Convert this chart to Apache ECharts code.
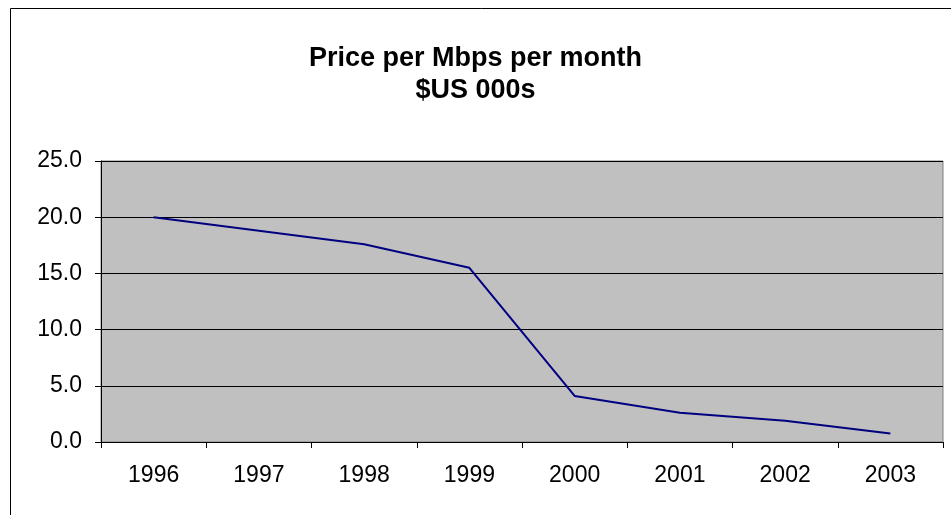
<!DOCTYPE html>
<html>
<head>
<meta charset="utf-8">
<script src="https://cdn.jsdelivr.net/npm/echarts@6/dist/echarts.min.js"></script>
<style>
	html, body { margin: 0; padding: 0; background: #fff; }
	#chart { width: 951px; height: 515px; }
</style>
</head>
<body>
<div id="chart"></div>
<script>
var years = ['1996', '1997', '1998', '1999', '2000', '2001', '2002', '2003'];
var prices = [20.0, 18.8, 17.6, 15.5, 4.1, 2.6, 1.9, 0.75];
var yTicks = [0, 5, 10, 15, 20, 25];

var chart = echarts.init(document.getElementById('chart'));

var option = {
	animation: false,
	textStyle: { fontFamily: 'Liberation Sans, Arial, sans-serif' },
	title: {
		text: 'Price per Mbps per month\n$US 000s',
		left: 'center',
		top: 38,
		textStyle: {
			fontSize: 27,
			fontWeight: 'bold',
			color: '#000',
			lineHeight: 32,
			fontFamily: 'Liberation Sans, Arial, sans-serif'
		}
	},
	graphic: [{
		type: 'rect',
		shape: { x: 10.5, y: 8.5, width: 960, height: 520 },
		style: { fill: 'none', stroke: '#000', lineWidth: 1 },
		silent: true
	}],
	grid: {
		left: 101,
		right: 8,
		top: 161,
		bottom: 73,
		show: true,
		backgroundColor: '#c0c0c0',
		borderColor: '#808080',
		borderWidth: 1
	},
	xAxis: {
		type: 'category',
		data: years,
		boundaryGap: true,
		axisLine: { lineStyle: { color: '#000', width: 1 } },
		axisTick: { show: true, length: 6, lineStyle: { color: '#000' } },
		axisLabel: { color: '#000', fontSize: 23, margin: 22 },
		splitLine: { show: false }
	},
	yAxis: {
		type: 'value',
		min: yTicks[0],
		max: yTicks[yTicks.length - 1],
		interval: 5,
		axisLine: { show: true, lineStyle: { color: '#000' } },
		axisTick: { show: true, length: 6, lineStyle: { color: '#000' } },
		axisLabel: {
			color: '#000',
			fontSize: 23,
			margin: 19,
			formatter: function (v) { return v.toFixed(1); }
		},
		splitLine: { show: true, lineStyle: { color: '#000', width: 1 } }
	},
	series: [{
		type: 'line',
		data: prices,
		symbol: 'none',
		lineStyle: { color: '#000080', width: 2 }
	}]
};

chart.setOption(option);
</script>
</body>
</html>
